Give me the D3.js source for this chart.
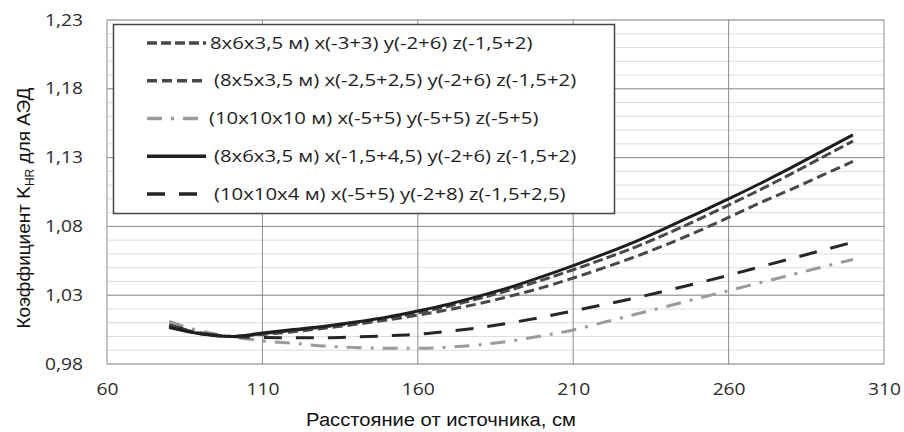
<!DOCTYPE html>
<html>
<head>
<meta charset="utf-8">
<script src="https://cdn.jsdelivr.net/npm/d3@7"></script>
<style>
  body { margin: 0; background: #fff; }
  svg { display: block; }
</style>
</head>
<body>
<svg id="chart" width="904" height="432"></svg>
<script>
// distance, cm
var distances = [80, 90, 100, 110, 120, 130, 140, 150, 160, 170, 180, 190, 200, 210, 220, 230, 240, 250, 260, 270, 280, 290, 300];

// K_HR values for each room / source area
var room8x6a = [1.0075, 1.0020, 1.0000, 1.0020, 1.0045, 1.0070, 1.0098, 1.0130, 1.0172, 1.0220, 1.0278, 1.0340, 1.0410, 1.0485, 1.0565, 1.0650, 1.0745, 1.0848, 1.0955, 1.1065, 1.1180, 1.1300, 1.1420];
var room8x5  = [1.0080, 1.0025, 1.0000, 1.0015, 1.0035, 1.0060, 1.0088, 1.0120, 1.0155, 1.0195, 1.0240, 1.0295, 1.0355, 1.0425, 1.0500, 1.0580, 1.0668, 1.0763, 1.0865, 1.0970, 1.1068, 1.1170, 1.1272];
var room10x10x10 = [1.0110, 1.0040, 1.0000, 0.9968, 0.9950, 0.9930, 0.9920, 0.9914, 0.9914, 0.9922, 0.9940, 0.9968, 1.0005, 1.0047, 1.0104, 1.0161, 1.0218, 1.0276, 1.0333, 1.0390, 1.0447, 1.0504, 1.0560];
var room8x6b = [1.0065, 1.0020, 1.0000, 1.0025, 1.0050, 1.0075, 1.0105, 1.0140, 1.0185, 1.0235, 1.0295, 1.0360, 1.0435, 1.0515, 1.0600, 1.0690, 1.0790, 1.0895, 1.1000, 1.1110, 1.1225, 1.1345, 1.1465];
var room10x10x4 = [1.0085, 1.0025, 1.0000, 0.9992, 0.9990, 0.9991, 0.9997, 1.0005, 1.0016, 1.0038, 1.0065, 1.0100, 1.0140, 1.0186, 1.0232, 1.0280, 1.0333, 1.0388, 1.0445, 1.0505, 1.0565, 1.0625, 1.0685];

var seriesNames = [
  "8x6x3,5 м) x(-3+3) y(-2+6) z(-1,5+2)",
  "(8x5x3,5 м) x(-2,5+2,5) y(-2+6) z(-1,5+2)",
  "(10x10x10 м) x(-5+5) y(-5+5) z(-5+5)",
  "(8x6x3,5 м) x(-1,5+4,5) y(-2+6) z(-1,5+2)",
  "(10x10x4 м) x(-5+5) y(-2+8) z(-1,5+2,5)"
];
var seriesValues = [room8x6a, room8x5, room10x10x10, room8x6b, room10x10x4];

var xTicks = [60, 110, 160, 210, 260, 310];
var yTicks = [0.98, 1.03, 1.08, 1.13, 1.18, 1.23];

var styles = [
  { color: "#484848", dash: "10,4" },
  { color: "#484848", dash: "10,5" },
  { color: "#9a9a9a", dash: "15,9,3,9" },
  { color: "#1e1e1e", dash: null },
  { color: "#262626", dash: "18,14" }
];

var margin = { top: 20, right: 20, bottom: 68, left: 107 };
var svg = d3.select("#chart");
var width = 884 - margin.left,
    height = 364 - margin.top;

var xScale = d3.scaleLinear().domain([60, 310]).range([margin.left, margin.left + width]);
var yScale = d3.scaleLinear().domain([0.98, 1.23]).range([margin.top + height, margin.top]);

var tickFont = "'Open Sans', sans-serif";
var comma = function(d) { return d3.format(".2f")(d).replace(".", ","); };

// stretch text horizontally, the picture is a bit wider than the font
function stretch(sel, k) {
  sel.each(function() {
    var len = this.getComputedTextLength();
    d3.select(this).attr("textLength", len * k).attr("lengthAdjust", "spacingAndGlyphs");
  });
}

var g = svg.append("g");

// minor gridlines every 0.01
var minor = d3.range(0, 26).map(function(i) { return 0.98 + i * 0.01; });
g.selectAll(".minor")
  .data(minor)
  .enter()
  .append("line")
    .attr("x1", xScale(60))
    .attr("x2", xScale(310))
    .attr("y1", function(d) { return yScale(d); })
    .attr("y2", function(d) { return yScale(d); })
    .attr("stroke", "#dcdcdc")
    .attr("stroke-width", 1);

// major horizontal gridlines
g.selectAll(".hmajor")
  .data(yTicks)
  .enter()
  .append("line")
    .attr("x1", xScale(60))
    .attr("x2", xScale(310))
    .attr("y1", function(d) { return yScale(d); })
    .attr("y2", function(d) { return yScale(d); })
    .attr("stroke", "#8c8c8c")
    .attr("stroke-width", 1);

// vertical gridlines
g.selectAll(".vmajor")
  .data(xTicks)
  .enter()
  .append("line")
    .attr("x1", function(d) { return xScale(d); })
    .attr("x2", function(d) { return xScale(d); })
    .attr("y1", yScale(0.98))
    .attr("y2", yScale(1.23))
    .attr("stroke", "#8c8c8c")
    .attr("stroke-width", 1);

// curves
var line = d3.line()
  .x(function(d, i) { return xScale(distances[i]); })
  .y(function(d) { return yScale(d); })
  .curve(d3.curveMonotoneX);

var drawOrder = [2, 4, 1, 0, 3];
drawOrder.forEach(function(k) {
  g.append("path")
    .datum(seriesValues[k])
    .attr("d", line)
    .attr("fill", "none")
    .attr("stroke", styles[k].color)
    .attr("stroke-width", 3)
    .attr("stroke-dasharray", styles[k].dash);
});

// x axis labels
var xAxis = svg.append("g")
  .attr("transform", "translate(0," + (margin.top + height) + ")")
  .call(d3.axisBottom(xScale).tickValues(xTicks).tickSize(0).tickPadding(20));
xAxis.select(".domain").remove();
xAxis.selectAll("text")
  .attr("font-family", tickFont)
  .attr("font-size", 16)
  .attr("fill", "#2a2a2a");

// y axis labels
var yAxis = svg.append("g")
  .attr("transform", "translate(" + margin.left + ",0)")
  .call(d3.axisLeft(yScale).tickValues(yTicks).tickFormat(comma).tickSize(0).tickPadding(24));
yAxis.select(".domain").remove();
yAxis.selectAll("text")
  .attr("font-family", tickFont)
  .attr("font-size", 16)
  .attr("fill", "#2a2a2a");
stretch(xAxis.selectAll("text"), 1.2);
stretch(yAxis.selectAll("text"), 1.2);

// axis titles
var xTitle = svg.append("text")
  .attr("x", 441)
  .attr("y", 426)
  .attr("text-anchor", "middle")
  .attr("font-family", "'Liberation Sans', Arial, sans-serif")
  .attr("font-size", 18)
  .attr("fill", "#111")
  .text("Расстояние от источника, см");
stretch(xTitle, 1.12);

var yTitle = svg.append("text")
  .attr("transform", "translate(30,208) rotate(-90)")
  .attr("text-anchor", "middle")
  .attr("font-family", "'Liberation Sans', Arial, sans-serif")
  .attr("font-size", 19)
  .attr("fill", "#111");
yTitle.append("tspan").text("Коэффициент K");
yTitle.append("tspan").attr("font-size", 12).attr("dy", 4).text("HR");
yTitle.append("tspan").attr("dy", -4).text(" для АЭД");

// legend
var legend = svg.append("g").attr("transform", "translate(113,24)");
legend.append("rect")
  .attr("x", 0.5).attr("y", 0.5)
  .attr("width", 501).attr("height", 189)
  .attr("fill", "#fff")
  .attr("stroke", "#444")
  .attr("stroke-width", 1.5);

var rowY = d3.scalePoint().domain(d3.range(seriesNames.length)).range([19, 170]);
var rows = legend.selectAll(".row")
  .data(seriesNames)
  .enter()
  .append("g")
    .attr("transform", function(d, i) { return "translate(0," + rowY(i) + ")"; });

rows.append("line")
  .attr("x1", 34).attr("x2", 93)
  .attr("y1", 0).attr("y2", 0)
  .attr("stroke", function(d, i) { return styles[i].color; })
  .attr("stroke-width", 3.5)
  .attr("stroke-dasharray", function(d, i) { return styles[i].dash; });

rows.append("text")
  .attr("x", function(d, i) { return i == 0 ? 97 : (i == 2 ? 96 : 101); })
  .attr("y", 0)
  .attr("dy", "0.35em")
  .attr("font-family", tickFont)
  .attr("font-size", 16)
  .attr("fill", "#1e1e1e")
  .text(function(d) { return d; });
stretch(rows.selectAll("text"), 1.27);
</script>
</body>
</html>
